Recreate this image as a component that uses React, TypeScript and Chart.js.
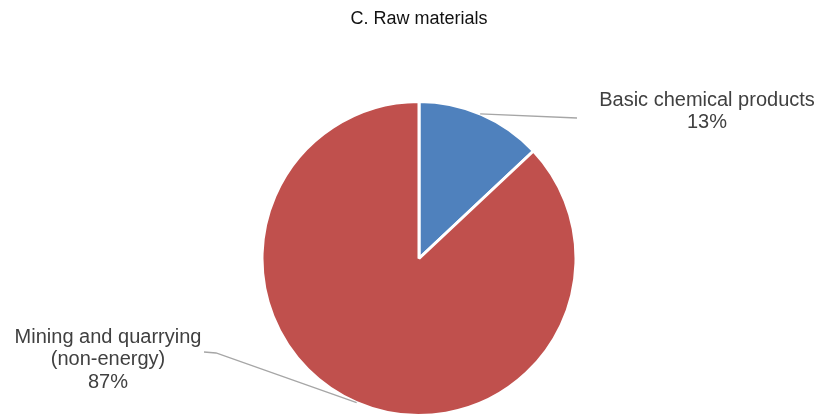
import React, { useEffect, useRef } from "react";
import { Chart, registerables } from "chart.js";

Chart.register(...registerables);

const title = "C. Raw materials";
const categories = ["Basic chemical products", "Mining and quarrying (non-energy)"];
const labelLines = [["Basic chemical products"], ["Mining and quarrying", "(non-energy)"]];
const shares = [13, 87];
const colors = ["#4F81BD", "#C0504D"];

// Callout text positions (center x, middle of first line y) and leader elbow points
const calloutPos = [
  { x: 707, y: 100, elbow: { x: 577, y: 118 } },
  { x: 108, y: 337, elbow: { x: 216, y: 353 } },
];
// angle fraction along each slice where the leader touches its edge
const leaderFrac = [0.49, 0.5];

const TEXT = "#404040";
const FONT = '"Liberation Sans", Arial, sans-serif';

const calloutPlugin = {
  id: "callouts",
  afterDraw(chart: any) {
    const ctx = chart.ctx;
    const meta = chart.getDatasetMeta(0);
    ctx.save();
    // title
    ctx.fillStyle = "#111111";
    ctx.font = `18px ${FONT}`;
    ctx.textAlign = "center";
    ctx.textBaseline = "middle";
    ctx.fillText(title, 419, 19);

    const total = shares.reduce((a, b) => a + b, 0);
    meta.data.forEach((arc: any, i: number) => {
      const { x, y, startAngle, endAngle, outerRadius } = arc.getProps(
        ["x", "y", "startAngle", "endAngle", "outerRadius"],
        true
      );
      const a = startAngle + (endAngle - startAngle) * leaderFrac[i];
      const px = x + Math.cos(a) * outerRadius;
      const py = y + Math.sin(a) * outerRadius;
      const pos = calloutPos[i];
      ctx.strokeStyle = "#A6A6A6";
      ctx.lineWidth = 1.3;
      ctx.beginPath();
      ctx.moveTo(px, py);
      ctx.lineTo(pos.elbow.x, pos.elbow.y);
      if (i === 1) ctx.lineTo(pos.elbow.x - 12, pos.elbow.y - 1);
      ctx.stroke();

      const lines = [...labelLines[i], `${Math.round((shares[i] / total) * 100)}%`];
      ctx.fillStyle = TEXT;
      ctx.font = `20px ${FONT}`;
      lines.forEach((t, k) => ctx.fillText(t, pos.x, pos.y + k * 22.5));
    });
    ctx.restore();
  },
};

export default function App() {
  const ref = useRef<HTMLCanvasElement>(null);
  useEffect(() => {
    document.body.style.margin = "0";
    const chart = new Chart(ref.current!, {
      type: "pie",
      data: {
        labels: categories,
        datasets: [
          {
            data: shares,
            backgroundColor: colors,
            borderColor: "#FFFFFF",
            borderWidth: 3,
          },
        ],
      },
      options: {
        animation: false,
        responsive: false,
        layout: { padding: { top: 100, bottom: -2, left: 21, right: 0 } },
        plugins: {
          legend: { display: false },
          tooltip: { enabled: false },
          title: { display: false },
        },
      },
      plugins: [calloutPlugin],
    });
    return () => chart.destroy();
  }, []);
  return (
    <div style={{ width: 817, height: 417, background: "#fff" }}>
      <canvas ref={ref} width={817} height={417} />
    </div>
  );
}
